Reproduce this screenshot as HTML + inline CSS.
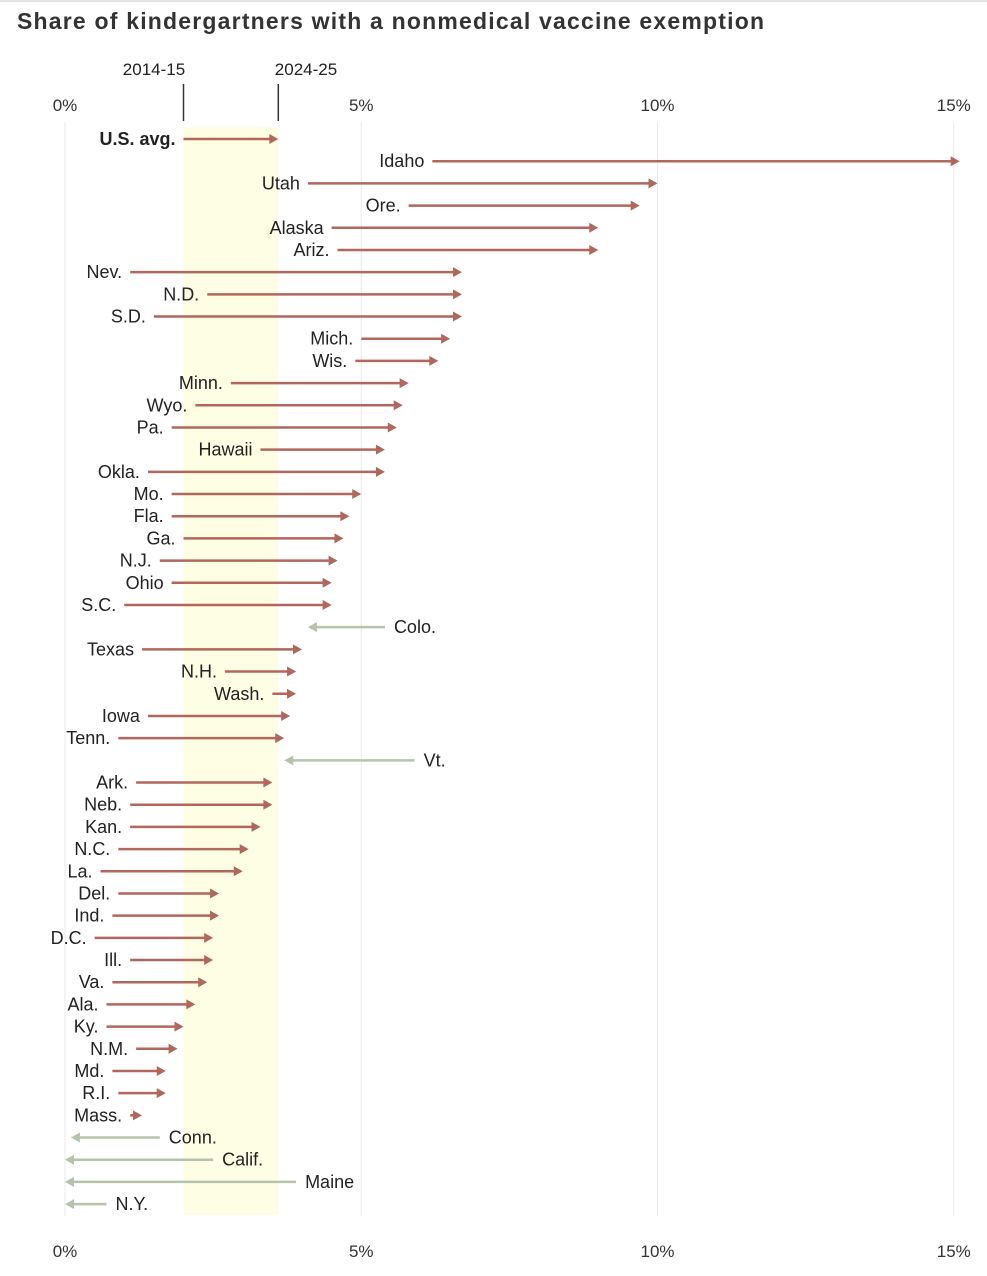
<!DOCTYPE html>
<html><head><meta charset="utf-8"><style>
body{margin:0;background:#fff;width:987px;height:1276px;overflow:hidden;font-family:"Liberation Sans",Arial,sans-serif}
#title{position:absolute;left:17px;top:8px;font-size:23px;font-weight:bold;color:#333;letter-spacing:1.2px}
#topline{position:absolute;left:0;top:0;width:987px;height:2px;background:#e2e2e2}
</style></head><body>
<div id="topline"></div>
<div id="title">Share of kindergartners with a nonmedical vaccine exemption</div>
<svg id="chart" width="987" height="1276" style="position:absolute;left:0;top:0"></svg>
<script>
const states=["U.S. avg.","Idaho","Utah","Ore.","Alaska","Ariz.","Nev.","N.D.","S.D.","Mich.","Wis.","Minn.","Wyo.","Pa.","Hawaii","Okla.","Mo.","Fla.","Ga.","N.J.","Ohio","S.C.","Colo.","Texas","N.H.","Wash.","Iowa","Tenn.","Vt.","Ark.","Neb.","Kan.","N.C.","La.","Del.","Ind.","D.C.","Ill.","Va.","Ala.","Ky.","N.M.","Md.","R.I.","Mass.","Conn.","Calif.","Maine","N.Y."];
const v2014=[2.0,6.2,4.1,5.8,4.5,4.6,1.1,2.4,1.5,5.0,4.9,2.8,2.2,1.8,3.3,1.4,1.8,1.8,2.0,1.6,1.8,1.0,5.4,1.3,2.7,3.5,1.4,0.9,5.9,1.2,1.1,1.1,0.9,0.6,0.9,0.8,0.5,1.1,0.8,0.7,0.7,1.2,0.8,0.9,1.1,1.6,2.5,3.9,0.7];
const v2024=[3.6,15.1,10.0,9.7,9.0,9.0,6.7,6.7,6.7,6.5,6.3,5.8,5.7,5.6,5.4,5.4,5.0,4.8,4.7,4.6,4.5,4.5,4.1,4.0,3.9,3.9,3.8,3.7,3.7,3.5,3.5,3.3,3.1,3.0,2.6,2.6,2.5,2.5,2.4,2.2,2.0,1.9,1.7,1.7,1.3,0.1,0.0,0.0,0.0];
const ticks=[0,5,10,15];
const tickLabels=["0%","5%","10%","15%"];
const NS="http://www.w3.org/2000/svg";
const svg=document.getElementById('chart');
const x=v=>65+v*59.25;
const y=i=>139+i*22.19;
function mk(t,a,p){const e=document.createElementNS(NS,t);for(const k in a)e.setAttribute(k,a[k]);(p||svg).appendChild(e);return e;}
let band=mk('rect',{x:x(v2014[0]),y:127,width:x(v2024[0])-x(v2014[0]),height:1088,fill:'#fefee4'});


ticks.forEach((t,i)=>{
 let g=mk('line',{x1:x(t),x2:x(t),y1:122,y2:1216,stroke:'#e8e8e8','stroke-width':1});
 
 
 [111,1257].forEach(yy=>{
  let tx=mk('text',{x:x(t),y:yy,'text-anchor':'middle','font-size':17,fill:'#333'});
  tx.textContent=tickLabels[i];
  
  
 });
});
[[v2014[0],"2014-15",154],[v2024[0],"2024-25",306]].forEach(m=>{
 let l=mk('line',{x1:x(m[0]),x2:x(m[0]),y1:84,y2:121,stroke:'#333','stroke-width':1.5});
 
 
 let t=mk('text',{x:m[2],y:75,'text-anchor':'middle','font-size':17,fill:'#222'});
 t.textContent=m[1];
 
 
});
states.forEach((s,i)=>{
 const a=x(v2014[i]),b=x(v2024[i]),yy=y(i),up=b>=a;
 const col=up?'#b1675b':'#b7c2ab';
 const d=up?1:-1;
 let ln=mk('line',{x1:a,x2:b-d*7,y1:yy,y2:yy,stroke:col,'stroke-width':2.5});
 
 
 let hd=mk('polygon',{points:`${b},${yy} ${b-d*9},${yy-5} ${b-d*9},${yy+5}`,fill:col});
 
 
 let t=mk('text',{x:up?a-8:a+9,y:yy+6,'text-anchor':up?'end':'start','font-size':18,fill:'#222','font-weight':i==0?'bold':'normal'});
 t.textContent=s;
 
 
});
</script>
</body></html>
